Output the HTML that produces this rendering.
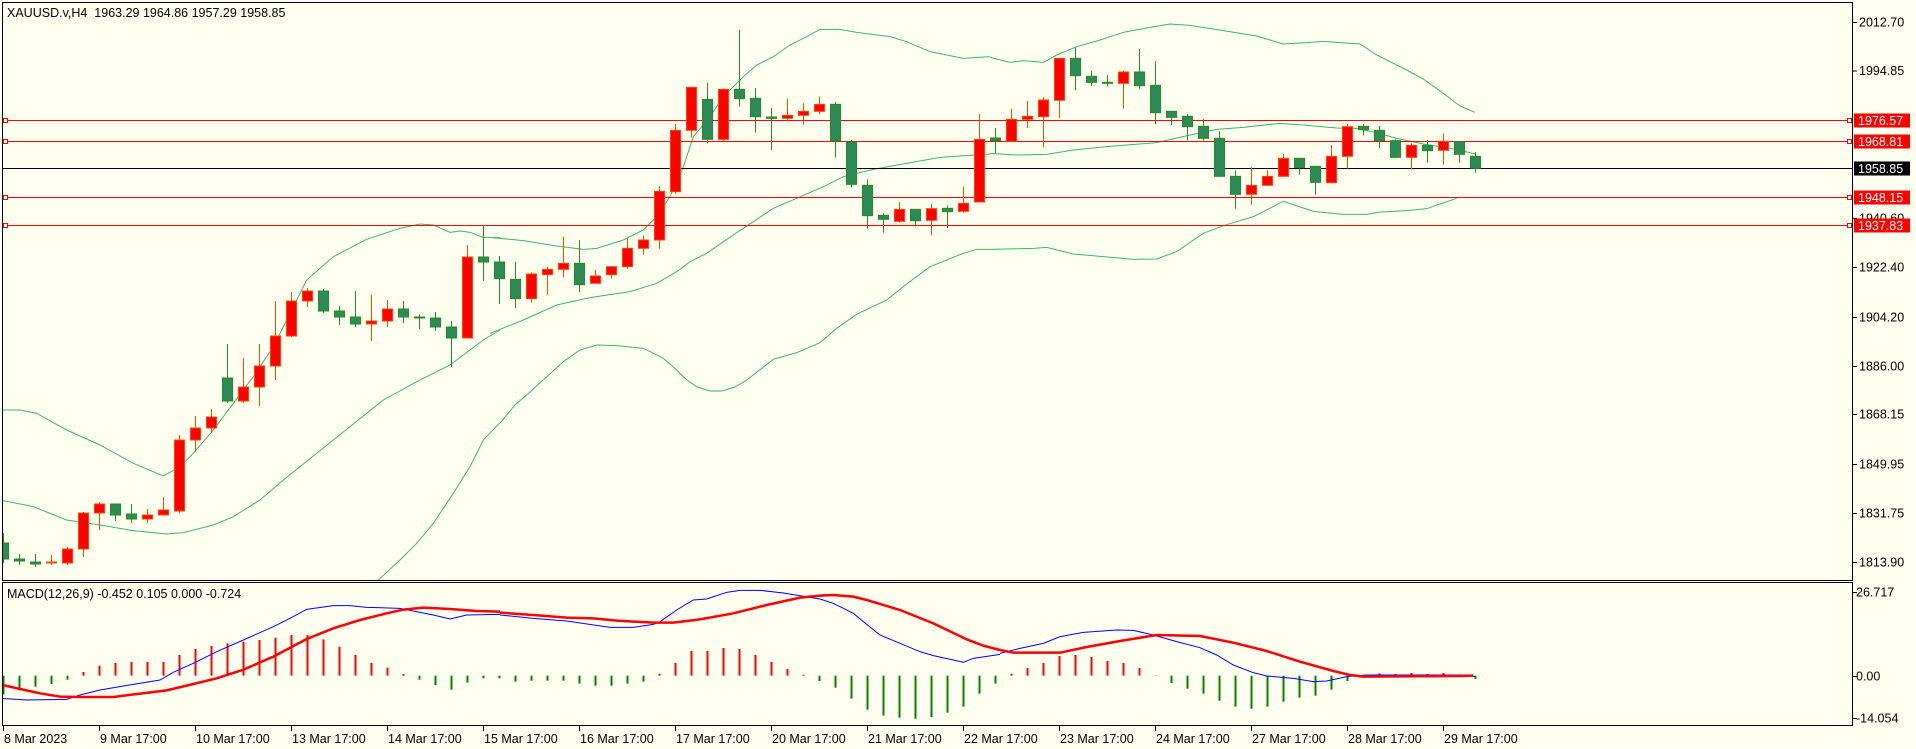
<!DOCTYPE html>
<html><head><meta charset="utf-8">
<style>
html,body{margin:0;padding:0;background:#fffff0;}
svg{display:block;}
text{font-family:"Liberation Sans","DejaVu Sans",sans-serif;font-size:12.5px;white-space:pre;}
</style></head>
<body>
<svg id="c" width="1916" height="749" xmlns="http://www.w3.org/2000/svg">
<defs>
<clipPath id="mainclip"><rect x="3" y="3" width="1849" height="577"/></clipPath>
<clipPath id="macdclip"><rect x="3" y="583" width="1849" height="142"/></clipPath>
</defs>
<rect x="0" y="0" width="1916" height="749" fill="#fffff0"/>
<g id="main" clip-path="url(#mainclip)"></g>
<g id="macd" clip-path="url(#macdclip)"></g>
<g id="over"></g>
<rect x="2.5" y="2.5" width="1850" height="578" fill="none" stroke="#000" stroke-width="1"/>
<rect x="2.5" y="582.5" width="1850" height="143" fill="none" stroke="#000" stroke-width="1"/>
<text x="7" y="17" xml:space="preserve">XAUUSD.v,H4  1963.29 1964.86 1957.29 1958.85</text>
<text x="7" y="598">MACD(12,26,9) -0.452 0.105 0.000 -0.724</text>
</svg>
<script>
var NS="http://www.w3.org/2000/svg";
function el(parent,tag,attrs,txt){var e=document.createElementNS(NS,tag);for(var k in attrs)e.setAttribute(k,attrs[k]);if(txt!==undefined)e.textContent=txt;parent.appendChild(e);return e;}
var main=document.getElementById('main'),macd=document.getElementById('macd'),over=document.getElementById('over'),svg=document.getElementById('c');
function poly(parent,off,pts,color,w,sc){var s=sc||0.33333;var g=el(parent,'g',{transform:'translate('+off[0]+','+off[1]+') scale('+s+')'});
 el(g,'polyline',{points:pts.map(function(p){return p.join(',')}).join(' '),fill:'none',stroke:color,'stroke-width':w,'vector-effect':'non-scaling-stroke'});}
var BC='#3cb371';
poly(main,[0,200],[[0,630],[60,630],[110,640],[200,690],[300,735],[400,790],[490,828],[540,800],[580,760],[640,690],[700,610],[760,530],[820,440],[860,360],[920,240],[1000,170],[1100,118],[1200,85],[1260,72],[1300,75],[1350,97],[1380,93],[1410,97],[1450,112],[1500,112]],BC,1);
poly(main,[0,200],[[0,900],[100,920],[200,960],[300,975],[400,992],[500,1002],[550,998],[640,975],[700,950],[780,900],[850,840],[950,760],[1050,680],[1150,600],[1250,545],[1350,495],[1450,420],[1500,390]],BC,1);
poly(main,[0,200],[[1135,1140],[1200,1080],[1250,1030],[1300,970],[1360,880],[1410,800],[1450,720],[1500,668]],BC,1);
poly(main,[490,0],[[0,712],[100,722],[200,738],[280,748],[320,745],[400,720],[460,690],[500,650],[540,590],[580,500],[610,410],[660,350],[700,290],[760,230],[800,195],[850,170],[900,135],[950,110],[990,88],[1050,88],[1100,97],[1200,110],[1250,125],[1320,155],[1420,175],[1500,170]],BC,1);
poly(main,[490,0],[[0,1000],[100,960],[200,915],[300,893],[420,875],[500,850],[560,815],[600,785],[650,760],[700,725],[760,685],[850,625],[920,595],[1000,560],[1060,530],[1150,508],[1250,490],[1350,472],[1500,462]],BC,1);
poly(main,[490,0],[[160,1140],[220,1085],[270,1050],[320,1035],[380,1037],[460,1045],[520,1075],[560,1110],[590,1140]],BC,1);
poly(main,[490,0],[[770,1140],[850,1078],[920,1058],[990,1028],[1040,985],[1100,943],[1190,900],[1250,852],[1320,800],[1420,760],[1460,748],[1500,748]],BC,1);
poly(main,[0,0],[[500,423],[515,405],[530,392],[543,380]],BC,1,1);
poly(main,[0,0],[[687,380],[697,387],[710,391],[722,391],[735,387],[747,380]],BC,1,1);
poly(main,[990,0],[[0,172],[60,187],[100,182],[160,187],[200,165],[260,140],[330,120],[400,97],[480,82],[540,72],[600,76],[700,92],[800,108],[880,132],[950,128],[1000,124],[1050,128],[1110,132],[1160,165],[1250,210],[1300,237],[1360,280],[1410,318],[1455,337]],BC,1);
poly(main,[990,0],[[0,460],[80,465],[170,463],[250,450],[350,440],[500,428],[600,405],[680,388],[760,382],[870,370],[940,375],[1040,384],[1100,385],[1160,398],[1220,415],[1300,432],[1400,448],[1455,462]],BC,1);
poly(main,[990,0],[[0,748],[130,745],[170,742],[250,762],[340,770],[430,778],[500,777],[560,755],[640,700],[700,677],[790,650],[880,604],[970,634],[1060,643],[1130,643],[1170,636],[1250,632],[1310,626],[1350,612],[1400,595]],BC,1);
[[120,'#ff0000'],[141,'#ff0000'],[197,'#ff0000'],[225,'#ff0000'],[168,'#000000']].forEach(function(l){
 el(main,'line',{x1:3,x2:1852,y1:l[0]+0.5,y2:l[0]+0.5,stroke:l[1],'stroke-width':1});
 if(l[1]!='#000000'){el(over,'rect',{x:3.5,y:l[0]-1.5,width:4,height:4,fill:'#fff',stroke:'#f00','stroke-width':1});
  el(over,'rect',{x:1847.5,y:l[0]-1.5,width:4,height:4,fill:'#fff',stroke:'#f00','stroke-width':1});}
});
var C=[
[0,'G',533,543,559,563],[1,'G',554,559,561,565],[2,'G',554,562,564,567],[3,'R',555,562,563,565],[4,'R',547,549,563,565],
[5,'R',512,513,549,557],[6,'R',502,504,513,530],[7,'G',504,504,515,521],[8,'G',504,514,519,523],[9,'R',509,515,519,523],
[10,'R',497,510,515,515],[11,'R',435,440,511,513],[12,'R',416,428,440,452],[13,'R',409,417,428,433],[14,'G',344,378,401,403],
[15,'R',358,387,401,403],[16,'R',344,366,387,406],[17,'R',301,336,366,380],[18,'R',292,301,336,337],[19,'R',288,291,301,307],
[20,'G',289,291,311,313],[21,'G',306,311,317,325],[22,'G',291,317,324,327],[23,'R',295,321,324,341],[24,'R',300,309,321,327],
[25,'G',301,309,317,323],[26,'G',314,317,318,329],[27,'G',312,318,327,331],[28,'G',321,327,338,367],[29,'R',245,257,338,338],[30,'G',225,257,262,281]];
var Z=[
[31,'G',768,786,836,912],[32,'G',786,838,896,924],[33,'R',818,822,896,908],[34,'R',800,808,824,884],[35,'R',710,790,808,832],
[36,'G',720,790,854,876],[37,'R',810,828,850,850],[38,'R',798,800,824,836],[39,'R',716,745,800,806],[40,'R',706,720,745,764],
[41,'R',558,574,720,746],[42,'R',372,391,575,582],[43,'R',262,262,391,412],[44,'G',248,298,418,430],[45,'R',266,268,418,424],
[46,'G',90,268,296,320],[47,'G',264,295,350,398],[48,'G',324,351,355,450],[49,'R',296,346,355,364],[50,'R',310,334,346,374],
[51,'R',290,313,334,342],[52,'G',306,313,423,472],[53,'G',420,426,553,562],[54,'G',538,556,647,686],[55,'G',640,646,658,698],
[56,'R',606,628,664,668],[57,'G',628,628,662,676],[58,'R',612,626,661,706],[59,'G',616,625,635,684],[60,'R',560,610,634,638],
[61,'R',342,418,606,606],
[62,'G',384,414,422,460],[63,'R',326,358,424,424],[64,'R',302,349,358,384],[65,'R',292,300,350,442],[66,'R',174,175,301,354],
[67,'G',143,175,227,270],[68,'G',212,229,247,258],[69,'G',225,247,250,260],[70,'R',213,216,250,326],[71,'G',147,216,257,266],
[72,'G',183,256,338,372],[73,'G',334,334,352,375],[74,'G',342,349,380,422],[75,'G',357,379,415,422],[76,'G',394,415,529,529],
[77,'G',510,529,583,626],[78,'R',501,556,583,614],[79,'R',510,529,556,556],[80,'R',462,475,529,529],[81,'G',475,475,503,524],
[82,'G',498,499,547,584],[83,'R',435,469,548,550],[84,'R',372,380,469,506],[85,'G',372,379,389,406],[86,'G',378,391,422,444],
[87,'G',418,422,472,472],[88,'R',430,436,472,508],[89,'G',420,436,452,488],[90,'R',400,424,451,494],[91,'G',424,425,463,488],[92,'G',456,469,505,518]];
Z.forEach(function(z){C.push([z[0],z[1],z[2]/3,z[3]/3,z[4]/3,z[5]/3]);});
C.forEach(function(c){
 var x=Math.round(3.3+16*c[0]);
 var fill=c[1]=='R'?'#ff0000':'#2e8b57', st=c[1]=='R'?'#ff4500':'#228b22';
 el(main,'line',{x1:x+0.5,x2:x+0.5,y1:c[2],y2:c[5],stroke:st,'stroke-width':1});
 var h=Math.max(c[4]-c[3],1);
 el(main,'rect',{x:x-4.5,y:c[3],width:10,height:h,fill:fill,stroke:st,'stroke-width':1});
});
var H=[['G',328],['G',316],['G',305],['G',297],['G',284],['R',261],['R',242],['R',234],['R',231],['R',231],['R',231],['R',210],['R',192],['R',183],['R',175],['R',170],['R',165],['R',158],['R',150],['R',150],['R',163],['R',185],['R',210],['R',234],['R',248],['R',267],['G',284],['G',300],['G',314],['G',293],['G',280],['G',280],
['G',290],['G',287],['G',287],['G',287],['G',296],['G',302],['G',302],['G',296],['G',290],['R',266],['R',234],['R',198],['R',198],['R',189],['R',192],['R',210],['R',231],['R',252],['R',269],['G',288],['G',308],['G',341],['G',374],['G',392],['G',398],['G',401],['G',396],['G',383],['G',365],['G',326],['G',296],
['R',266],['R',249],['R',234],['R',213],['R',210],['R',216],['R',228],['R',234],['R',249],['R',271],['G',294],['G',311],['G',326],['G',347],['G',365],['G',371],['G',365],['G',350],['G',338],['G',332],['G',314],['G',288],['G',275],['R',265],['R',267],['R',264],['R',267],['R',264],['G',274],['G',282]];
var zero=675.7;
H.forEach(function(h,k){var x=Math.round(3.3+16*k)+0.5;var y=585+h[1]/3;
 el(macd,'line',{x1:x,x2:x,y1:zero,y2:y,stroke:h[0]=='R'?'#ff0000':'#008000','stroke-width':2});});
poly(macd,[0,585],[[0,340],[80,345],[200,343],[240,330],[300,315],[400,298],[480,285],[520,262],[580,235],[650,200],[730,165],[820,125],[870,100],[920,73],[1000,62],[1050,62],[1100,67],[1200,70],[1300,90],[1350,102],[1400,90],[1500,88]],'#0000ff',1);
poly(macd,[500,585],[[0,90],[100,100],[200,108],[330,127],[400,127],[460,118],[480,110],[530,75],[580,45],[620,42],[680,22],[720,16],[780,16],[850,24],[930,37],[960,42],[1000,55],[1060,85],[1100,118],[1140,150],[1200,175],[1260,200],[1300,212],[1360,225],[1390,232],[1420,220],[1500,208]],'#0000ff',1);
poly(macd,[1000,585],[[0,205],[60,190],[130,175],[180,155],[250,142],[350,135],[400,136],[460,150],[530,170],[600,188],[650,210],[700,240],[760,263],[800,273],[880,280],[940,290],[980,288],[1040,275],[1100,270],[1400,270],[1425,275]],'#0000ff',1);
poly(macd,[0,585],[[0,298],[60,312],[120,325],[180,335],[240,336],[340,336],[420,326],[500,316],[580,297],[650,280],[730,254],[820,215],[920,162],[1000,130],[1080,105],[1160,85],[1210,74],[1270,68],[1350,72],[1430,78],[1500,80]],'#ff0000',2.5);
poly(macd,[500,585],[[0,83],[100,90],[200,98],[280,100],[350,107],[460,113],[520,113],[600,103],[700,85],[800,60],[900,38],[960,32],[1000,30],[1060,35],[1100,45],[1200,75],[1300,115],[1400,163],[1450,182],[1500,195]],'#ff0000',2.5);
poly(macd,[1000,585],[[0,195],[40,203],[180,203],[260,186],[360,168],[470,150],[600,153],[700,173],[800,198],[900,230],[1000,258],[1050,270],[1090,275],[1380,273],[1420,272]],'#ff0000',2.5);
[['2012.70',22],['1994.85',70.5],['1940.60',218],['1922.40',267],['1904.20',317],['1886.00',366],['1868.15',414],['1849.95',464],['1831.75',513],['1813.90',562]].forEach(function(t){
 el(svg,'line',{x1:1853,x2:1857,y1:t[1]+0.5,y2:t[1]+0.5,stroke:'#000'});
 el(svg,'text',{x:1859,y:t[1]+4.5},t[0]);});
[['1976.57',120,'#ff0000'],['1968.81',141,'#ff0000'],['1958.85',168,'#000000'],['1948.15',197,'#ff0000'],['1937.83',225,'#ff0000']].forEach(function(t){
 el(svg,'rect',{x:1854,y:t[1]-6.5,width:56,height:14,fill:t[2]});
 el(svg,'text',{x:1858,y:t[1]+5,fill:'#fff'},t[0]);});
[['26.717',592],['0.00',676],['-14.054',718]].forEach(function(t){
 el(svg,'line',{x1:1853,x2:1857,y1:t[1]+0.5,y2:t[1]+0.5,stroke:'#000'});
 el(svg,'text',{x:1856,y:t[1]+4.5},t[0]);});
var T=['8 Mar 2023','9 Mar 17:00','10 Mar 17:00','13 Mar 17:00','14 Mar 17:00','15 Mar 17:00','16 Mar 17:00','17 Mar 17:00','20 Mar 17:00','21 Mar 17:00','22 Mar 17:00','23 Mar 17:00','24 Mar 17:00','27 Mar 17:00','28 Mar 17:00','29 Mar 17:00'];
T.forEach(function(t,i){var x=i==0?3:99+96*(i-1);
 el(svg,'line',{x1:x+0.5,x2:x+0.5,y1:726,y2:731,stroke:'#000'});
 el(svg,'text',{x:x+1,y:743},t);});
</script>
</body></html>
